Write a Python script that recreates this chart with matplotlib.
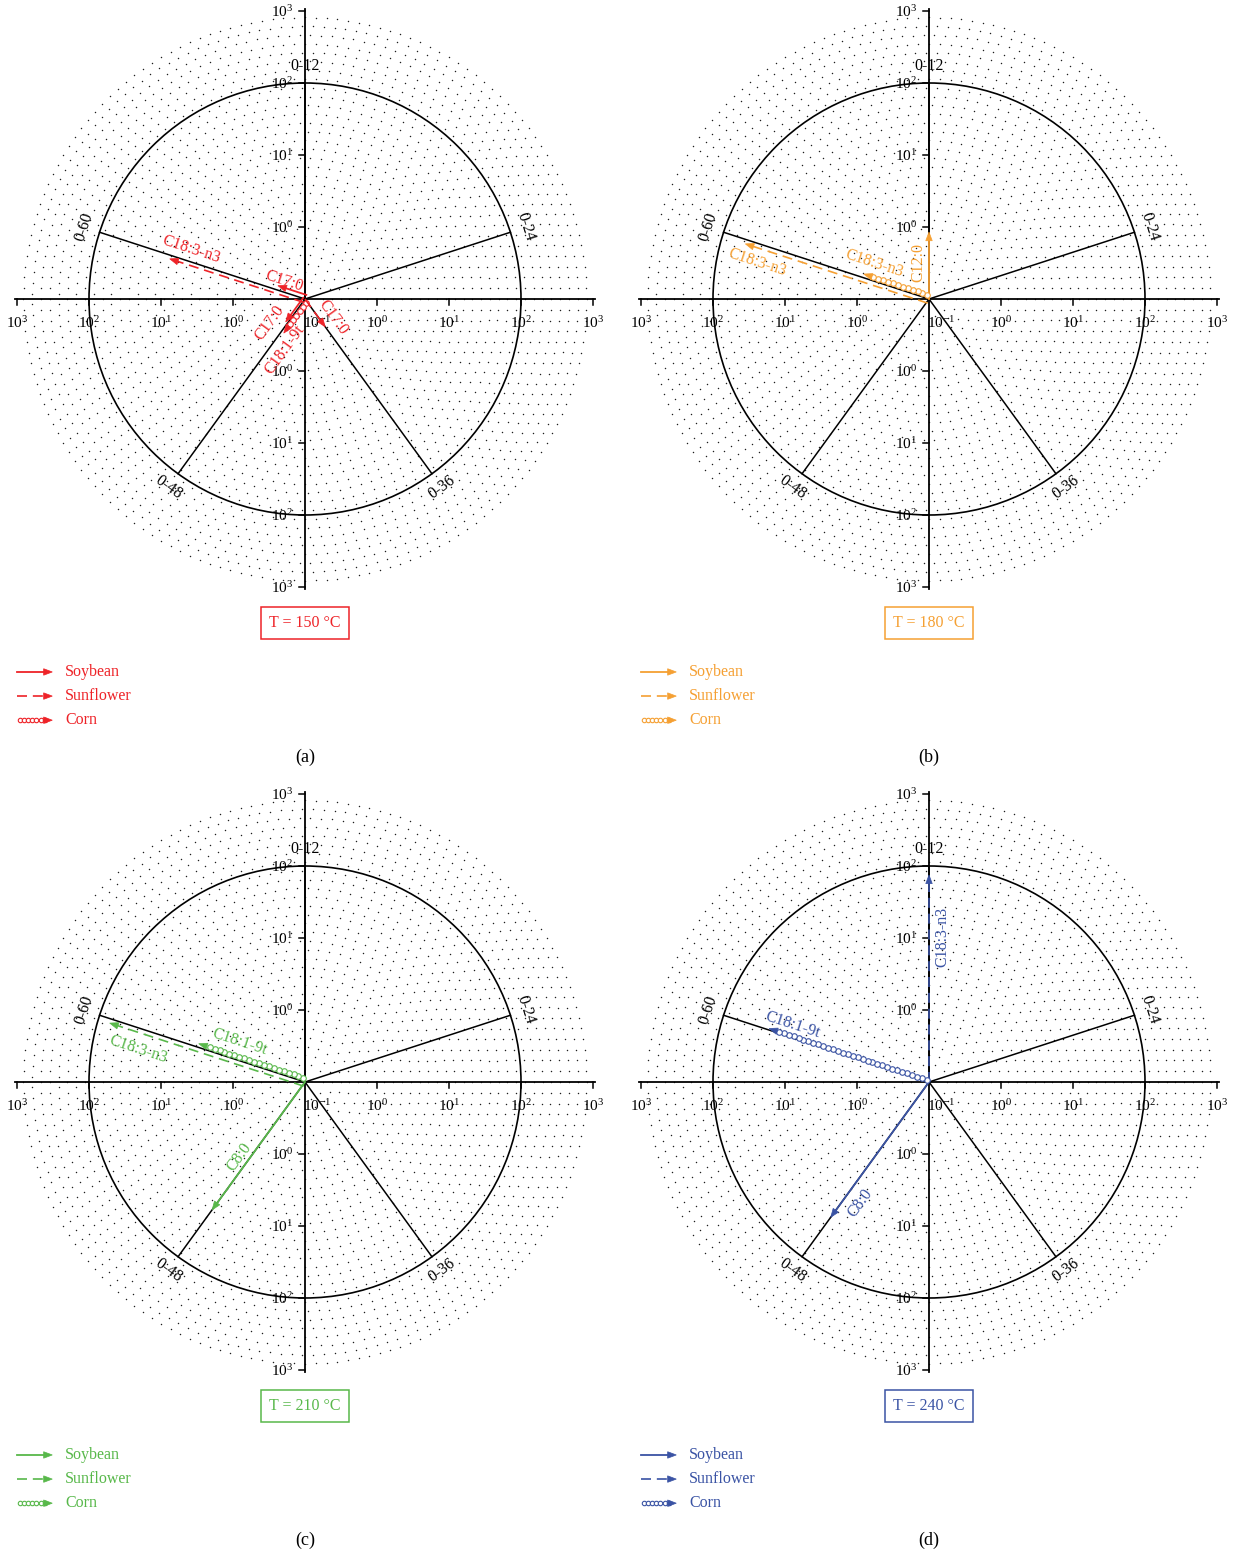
import numpy as np
import matplotlib.pyplot as plt
from matplotlib.patches import Polygon, Circle

plt.rcParams['font.family'] = ['Liberation Serif', 'DejaVu Serif']
plt.rcParams['mathtext.fontset'] = 'custom'
plt.rcParams['mathtext.rm'] = 'Liberation Serif'
plt.rcParams['mathtext.it'] = 'Liberation Serif:italic'

# time intervals (h) shown as spokes, clockwise from the top
intervals = ['0-12', '0-24', '0-36', '0-48', '0-60']
oils = ['Soybean', 'Sunflower', 'Corn']
temps = [150, 180, 210, 240]
panel_tags = ['(a)', '(b)', '(c)', '(d)']
colors = ['#ee2328', '#f5a033', '#58b84a', '#3a53a4']

# fatty acid arrows per temperature: oil, interval, acid, magnitude
t150_oil = ['Soybean', 'Sunflower', 'Soybean', 'Corn', 'Sunflower']
t150_interval = ['0-60', '0-60', '0-48', '0-48', '0-36']
t150_acid = ['C17:0', 'C18:3-n3', 'C17:0', 'C18:1-9t', 'C17:0']
t150_value = [0.26, 9.1, 0.26, 0.36, 0.30]

t180_oil = ['Soybean', 'Sunflower', 'Corn']
t180_interval = ['0-12', '0-60', '0-60']
t180_acid = ['C12:0', 'C18:3-n3', 'C18:3-n3']
t180_value = [0.85, 46.0, 0.93]

t210_oil = ['Soybean', 'Sunflower', 'Corn']
t210_interval = ['0-48', '0-60', '0-60']
t210_acid = ['C8:0', 'C18:3-n3', 'C18:1-9t']
t210_value = [15.7, 68.0, 3.7]

t240_oil = ['Soybean', 'Sunflower', 'Corn']
t240_interval = ['0-48', '0-12', '0-60']
t240_acid = ['C8:0', 'C18:3-n3', 'C18:1-9t']
t240_value = [21.0, 75.0, 22.0]

panels = [
    (t150_oil, t150_interval, t150_acid, t150_value),
    (t180_oil, t180_interval, t180_acid, t180_value),
    (t210_oil, t210_interval, t210_acid, t210_value),
    (t240_oil, t240_interval, t240_acid, t240_value),
]

# placement: sideways shift of each arrow, and its label (along, across) in decades
line_shift = [
    [-0.06, 0.05, -0.03, 0.04, 0.0],
    [0.0, 0.06, -0.05],
    [0.0, 0.06, -0.05],
    [0.0, 0.0, -0.02],
]
label_at = [
    [(0.35, -0.15), (1.72, -0.16), (0.56, -0.20), (0.74, 0.19), (0.44, 0.16)],
    [(0.51, 0.15), (2.43, 0.26), (0.88, -0.24)],
    [(1.38, -0.12), (2.34, 0.29), (1.03, -0.25)],
    [(1.92, 0.21), (2.01, -0.18), (2.04, -0.17)],
]

centers = [(305, 299), (929, 299), (305, 1082), (929, 1082)]
W, H = 1234, 1555
PX = 72.0      # pixels per decade
HALF = 4.1     # half-width of each polar panel in decades


def sup(e):
    return r'$\mathregular{10^{%d}}$' % e


def upright(rot):
    # keep rotated text readable
    rot = (rot + 180) % 360 - 180
    if rot > 90:
        rot -= 180
    elif rot <= -90:
        rot += 180
    return rot


def head(ax, tip, u, color, hl=0.12, hw=0.09):
    n = np.array([-u[1], u[0]])
    base = tip - u * hl
    ax.add_patch(Polygon([tip, base + n * hw / 2, base - n * hw / 2],
                         closed=True, fc=color, ec=color, lw=0.5,
                         clip_on=False, zorder=6))


def arrow(ax, start, u, length, oil, color, ms=4):
    tip = start + u * length
    end = tip - u * 0.09
    if oil == 'Soybean':
        ax.plot([start[0], end[0]], [start[1], end[1]], '-', color=color,
                lw=1.3, zorder=5, clip_on=False)
    elif oil == 'Sunflower':
        ax.plot([start[0], end[0]], [start[1], end[1]], color=color,
                lw=1.2, dashes=(6, 3.5), zorder=5, clip_on=False)
    else:
        step = 0.072 * ms / 4
        s = np.arange(0.04, length - 0.1, step)
        pts = start + np.outer(s, u)
        ax.plot(pts[:, 0], pts[:, 1], 'o', mfc='white', mec=color, ms=ms,
                mew=0.8, zorder=5, clip_on=False)
    head(ax, tip, u, color)


fig = plt.figure(figsize=(W / 100, H / 100), dpi=100)

for k, (cx, cy) in enumerate(centers):
    ax = fig.add_axes([(cx - HALF * PX) / W, (H - cy - HALF * PX) / H,
                       2 * HALF * PX / W, 2 * HALF * PX / H])
    ax.set_xlim(-HALF, HALF)
    ax.set_ylim(-HALF, HALF)
    ax.axis('off')
    color = colors[k]

    # dotted concentric background
    xs, ys = [], []
    for rr in np.arange(0.25, 4.02, 0.122):
        n = int(round(2 * np.pi * rr / 0.15))
        a = np.arange(n) * 2 * np.pi / n
        xs.append(rr * np.cos(a))
        ys.append(rr * np.sin(a))
    ax.scatter(np.concatenate(xs), np.concatenate(ys), s=1.1, c='#1e1e1e',
               lw=0, zorder=1)

    # 10^2 circle and interval spokes
    ax.add_patch(Circle((0, 0), 3.0, fill=False, ec='black', lw=1.2, zorder=3))
    for i, name in enumerate(intervals):
        theta = 90 - 72 * i
        th = np.deg2rad(theta)
        ax.plot([0, 3 * np.cos(th)], [0, 3 * np.sin(th)], color='black',
                lw=1.1, zorder=3)
        ax.text(3.23 * np.cos(th), 3.23 * np.sin(th), name, fontsize=11.5,
                rotation=upright(theta - 90), ha='center', va='center', zorder=4)

    # log axes through the centre
    ax.plot([-4.03, 4.03], [0, 0], color='black', lw=1.3, zorder=3)
    ax.plot([0, 0], [-4.03, 4.03], color='black', lw=1.3, zorder=3)
    for r in range(1, 5):
        for sgn in (-1, 1):
            ax.plot([sgn * r, sgn * r], [0, -0.08], color='black', lw=1.1, zorder=3)
            ax.plot([0, -0.08], [sgn * r, sgn * r], color='black', lw=1.1, zorder=3)
            ax.text(sgn * r, -0.34, sup(r - 1), fontsize=11, ha='center',
                    va='center', zorder=4)
            ax.text(-0.17, sgn * r - 0.02, sup(r - 1), fontsize=11,
                    ha='right', va='center', zorder=4)
    ax.text(0.17, -0.34, sup(-1), fontsize=11, ha='center', va='center', zorder=4)

    # fatty acid arrows
    oil_l, int_l, acid_l, val_l = panels[k]
    for j in range(len(val_l)):
        theta = 90 - 72 * intervals.index(int_l[j])
        th = np.deg2rad(theta)
        u = np.array([np.cos(th), np.sin(th)])
        nv = np.array([-u[1], u[0]])
        length = np.log10(val_l[j]) + 1
        arrow(ax, nv * line_shift[k][j], u, length, oil_l[j], color)
        la, lp = label_at[k][j]
        p = u * la + nv * lp
        ax.text(p[0], p[1], acid_l[j], color=color, fontsize=11.5,
                rotation=upright(theta), ha='center', va='center', zorder=7)

    # temperature box
    ax.text(0, -4.5, 'T = %d °C' % temps[k], color=color, fontsize=11.5,
            ha='center', va='center', clip_on=False,
            bbox=dict(boxstyle='square,pad=0.5', fc='white', ec=color, lw=1.1))

    # legend
    for j, oil in enumerate(oils):
        y = -5.18 - 0.335 * j
        arrow(ax, np.array([-4.0, y]), np.array([1.0, 0.0]), 0.49, oil, color,
              ms=3.2)
        ax.text(-3.33, y, oil, color=color, fontsize=11.5, ha='left',
                va='center', clip_on=False)

    ax.text(0, -6.36, panel_tags[k], fontsize=13, ha='center', va='center',
            clip_on=False)

fig.savefig('out.png', dpi=100)
